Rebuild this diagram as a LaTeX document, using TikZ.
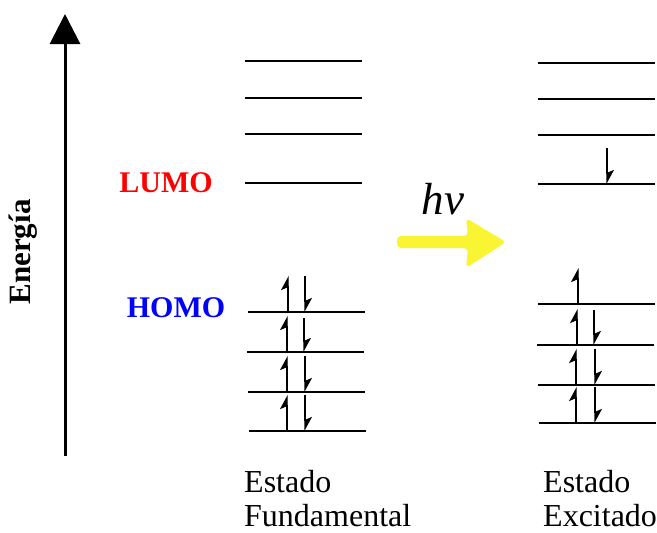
\documentclass[tikz,border=0pt]{standalone}
\usepackage{fontspec}
\setmainfont{Liberation Serif}
\usetikzlibrary{arrows.meta}
\usetikzlibrary{positioning}

\definecolor{lumored}{RGB}{255,0,0}
\definecolor{homoblue}{RGB}{0,0,255}
\definecolor{photon}{RGB}{250,245,50}

\tikzset{
  level/.style={line width=1.3pt},
  elec/.style={line width=1.2pt,-{Stealth[harpoon,length=13pt,width=14pt,inset=3pt]}},
  orbname/.style={font=\fontsize{30}{30}\selectfont\bfseries},
  estado/.style={font=\fontsize{32}{34}\selectfont,align=left,anchor=north west,inner sep=0pt}
}

\begin{document}
\begin{tikzpicture}[x=1pt,y=-1pt]
        \useasboundingbox (0,0) rectangle (657,533);
        % eje de energia
        \draw[line width=3pt,-{Triangle[length=30pt,width=30pt]}] (65,456)--(65,14);
        \node[rotate=90,font=\fontsize{31}{31}\selectfont\bfseries] (energia) at (23,252) {Energía};
        \node[orbname,text=lumored] (lumo) at (166,183) {LUMO};
        \node[orbname,text=homoblue] (homo) at (176,308) {HOMO};
        % estado fundamental
        \draw[level] (245,61)--(362,61);
        \draw[level] (245,98)--(362,98);
        \draw[level] (245,134)--(362,134);
        \draw[level] (245,183)--(362,183);
        \draw[level] (248,312)--(365,312);
        \draw[level] (247,352)--(364,352);
        \draw[level] (248,392)--(365,392);
        \draw[level] (249,431)--(366,431);
        \draw[elec] (288,312)--(288,276);
        \draw[elec] (305,276)--(305,312);
        \draw[elec] (287,352)--(287,316);
        \draw[elec] (304,318)--(304,352);
        \draw[elec] (287,392)--(287,356);
        \draw[elec] (305,356)--(305,392);
        \draw[elec] (287,431)--(287,395);
        \draw[elec] (305,395)--(305,431);
        % estado excitado
        \draw[level] (538,63)--(655,63);
        \draw[level] (538,99)--(655,99);
        \draw[level] (538,135)--(655,135);
        \draw[level] (538,184)--(655,184);
        \draw[level] (538,304)--(655,304);
        \draw[level] (537,345)--(654,345);
        \draw[level] (538,385)--(655,385);
        \draw[level] (539,423)--(656,423);
        \draw[elec] (607,148)--(607,184);
        \draw[elec] (578,304)--(578,268);
        \draw[elec] (577,345)--(577,309);
        \draw[elec] (594,310)--(594,345);
        \draw[elec] (576,385)--(576,349);
        \draw[elec] (595,349)--(595,385);
        \draw[elec] (576,423)--(576,387);
        \draw[elec] (595,387)--(595,423);
        % foton
        \fill[photon,rounded corners=4pt] (397,236)--(468,236)--(466,218)--(506,242)--(466,268)--(468,248)--(397,248)--cycle;
        \node[font=\fontsize{45}{45}\selectfont\itshape,anchor=base] (hv) at (443,214) {hv};
        \node[estado] (fund) at (244,470) {Estado\\Fundamental};
        \node[estado] (exc) at (543,470) {Estado\\Excitado};
    \end{tikzpicture}
\end{document}
